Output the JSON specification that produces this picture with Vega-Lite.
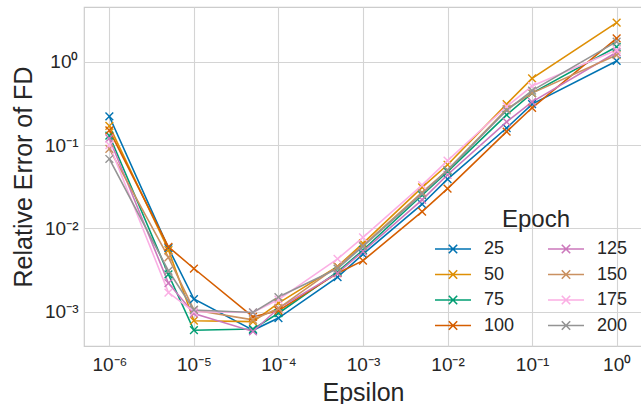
{
  "$schema": "https://vega.github.io/schema/vega-lite/v6.json",
  "width": 558,
  "height": 339,
  "autosize": {"type": "none"},
  "padding": {"left": 84, "top": 7, "right": 0, "bottom": 58},
  "background": "white",
  "config": {
    "font": "Liberation Sans",
    "view": {"stroke": "#cccccc", "strokeWidth": 1.2},
    "axis": {
      "gridColor": "#d4d4d4",
      "gridWidth": 1.1,
      "domain": false,
      "ticks": false,
      "labelColor": "#262626",
      "titleColor": "#262626",
      "labelFontSize": 19,
      "titleFontSize": 25,
      "titleFontWeight": "normal"
    },
    "legend": {
      "titleFontSize": 24,
      "titleFontWeight": "normal",
      "titleColor": "#262626",
      "labelColor": "#262626",
      "labelFontSize": 18
    }
  },
  "datasets": {
    "d": [
      {"epoch": "25", "eps": 1e-6, "err": 0.22},
      {"epoch": "25", "eps": 5e-6, "err": 0.0058},
      {"epoch": "25", "eps": 1e-5, "err": 0.00142},
      {"epoch": "25", "eps": 5e-5, "err": 0.0006},
      {"epoch": "25", "eps": 1e-4, "err": 0.00084},
      {"epoch": "25", "eps": 5e-4, "err": 0.0026},
      {"epoch": "25", "eps": 1e-3, "err": 0.0049},
      {"epoch": "25", "eps": 5e-3, "err": 0.0195},
      {"epoch": "25", "eps": 1e-2, "err": 0.039},
      {"epoch": "25", "eps": 5e-2, "err": 0.16},
      {"epoch": "25", "eps": 1e-1, "err": 0.31},
      {"epoch": "25", "eps": 1, "err": 1.02},

      {"epoch": "50", "eps": 1e-6, "err": 0.17},
      {"epoch": "50", "eps": 5e-6, "err": 0.0055},
      {"epoch": "50", "eps": 1e-5, "err": 0.00078},
      {"epoch": "50", "eps": 5e-5, "err": 0.00076},
      {"epoch": "50", "eps": 1e-4, "err": 0.00127},
      {"epoch": "50", "eps": 5e-4, "err": 0.0035},
      {"epoch": "50", "eps": 1e-3, "err": 0.0066},
      {"epoch": "50", "eps": 5e-3, "err": 0.031},
      {"epoch": "50", "eps": 1e-2, "err": 0.058},
      {"epoch": "50", "eps": 5e-2, "err": 0.31},
      {"epoch": "50", "eps": 1e-1, "err": 0.63},
      {"epoch": "50", "eps": 1, "err": 2.94},

      {"epoch": "75", "eps": 1e-6, "err": 0.13},
      {"epoch": "75", "eps": 5e-6, "err": 0.0028},
      {"epoch": "75", "eps": 1e-5, "err": 0.0006},
      {"epoch": "75", "eps": 5e-5, "err": 0.00062},
      {"epoch": "75", "eps": 1e-4, "err": 0.00096},
      {"epoch": "75", "eps": 5e-4, "err": 0.003},
      {"epoch": "75", "eps": 1e-3, "err": 0.0055},
      {"epoch": "75", "eps": 5e-3, "err": 0.025},
      {"epoch": "75", "eps": 1e-2, "err": 0.048},
      {"epoch": "75", "eps": 5e-2, "err": 0.23},
      {"epoch": "75", "eps": 1e-1, "err": 0.42},
      {"epoch": "75", "eps": 1, "err": 1.51},

      {"epoch": "100", "eps": 1e-6, "err": 0.15},
      {"epoch": "100", "eps": 5e-6, "err": 0.006},
      {"epoch": "100", "eps": 1e-5, "err": 0.0033},
      {"epoch": "100", "eps": 5e-5, "err": 0.00087},
      {"epoch": "100", "eps": 1e-4, "err": 0.00103},
      {"epoch": "100", "eps": 5e-4, "err": 0.0029},
      {"epoch": "100", "eps": 1e-3, "err": 0.0041},
      {"epoch": "100", "eps": 5e-3, "err": 0.0159},
      {"epoch": "100", "eps": 1e-2, "err": 0.03},
      {"epoch": "100", "eps": 5e-2, "err": 0.145},
      {"epoch": "100", "eps": 1e-1, "err": 0.28},
      {"epoch": "100", "eps": 1, "err": 1.9},

      {"epoch": "125", "eps": 1e-6, "err": 0.12},
      {"epoch": "125", "eps": 5e-6, "err": 0.0022},
      {"epoch": "125", "eps": 1e-5, "err": 0.00095},
      {"epoch": "125", "eps": 5e-5, "err": 0.00058},
      {"epoch": "125", "eps": 1e-4, "err": 0.0011},
      {"epoch": "125", "eps": 5e-4, "err": 0.0029},
      {"epoch": "125", "eps": 1e-3, "err": 0.0053},
      {"epoch": "125", "eps": 5e-3, "err": 0.022},
      {"epoch": "125", "eps": 1e-2, "err": 0.044},
      {"epoch": "125", "eps": 5e-2, "err": 0.19},
      {"epoch": "125", "eps": 1e-1, "err": 0.33},
      {"epoch": "125", "eps": 1, "err": 1.3},

      {"epoch": "150", "eps": 1e-6, "err": 0.09},
      {"epoch": "150", "eps": 5e-6, "err": 0.0045},
      {"epoch": "150", "eps": 1e-5, "err": 0.00105},
      {"epoch": "150", "eps": 5e-5, "err": 0.0008},
      {"epoch": "150", "eps": 1e-4, "err": 0.0011},
      {"epoch": "150", "eps": 5e-4, "err": 0.0035},
      {"epoch": "150", "eps": 1e-3, "err": 0.0062},
      {"epoch": "150", "eps": 5e-3, "err": 0.027},
      {"epoch": "150", "eps": 1e-2, "err": 0.05},
      {"epoch": "150", "eps": 5e-2, "err": 0.27},
      {"epoch": "150", "eps": 1e-1, "err": 0.42},
      {"epoch": "150", "eps": 1, "err": 1.2},

      {"epoch": "175", "eps": 1e-6, "err": 0.1},
      {"epoch": "175", "eps": 5e-6, "err": 0.0017},
      {"epoch": "175", "eps": 1e-5, "err": 0.001},
      {"epoch": "175", "eps": 5e-5, "err": 0.00098},
      {"epoch": "175", "eps": 1e-4, "err": 0.0014},
      {"epoch": "175", "eps": 5e-4, "err": 0.0043},
      {"epoch": "175", "eps": 1e-3, "err": 0.0078},
      {"epoch": "175", "eps": 5e-3, "err": 0.033},
      {"epoch": "175", "eps": 1e-2, "err": 0.065},
      {"epoch": "175", "eps": 5e-2, "err": 0.29},
      {"epoch": "175", "eps": 1e-1, "err": 0.51},
      {"epoch": "175", "eps": 1, "err": 1.38},

      {"epoch": "200", "eps": 1e-6, "err": 0.068},
      {"epoch": "200", "eps": 5e-6, "err": 0.0031},
      {"epoch": "200", "eps": 1e-5, "err": 0.00105},
      {"epoch": "200", "eps": 5e-5, "err": 0.00098},
      {"epoch": "200", "eps": 1e-4, "err": 0.0015},
      {"epoch": "200", "eps": 5e-4, "err": 0.0033},
      {"epoch": "200", "eps": 1e-3, "err": 0.0061},
      {"epoch": "200", "eps": 5e-3, "err": 0.026},
      {"epoch": "200", "eps": 1e-2, "err": 0.05},
      {"epoch": "200", "eps": 5e-2, "err": 0.26},
      {"epoch": "200", "eps": 1e-1, "err": 0.45},
      {"epoch": "200", "eps": 1, "err": 1.74}
    ]
  },
  "data": {"name": "d"},
  "mark": {
    "type": "line",
    "strokeWidth": 1.6,
    "clip": true,
    "point": {
      "shape": "M-1,-1L1,1M-1,1L1,-1",
      "filled": false,
      "size": 60,
      "strokeWidth": 1.4
    }
  },
  "encoding": {
    "x": {
      "field": "eps",
      "type": "quantitative",
      "title": "Epsilon",
      "scale": {"type": "log", "domain": [5.012e-7, 1.995], "nice": false},
      "axis": {
        "values": [1e-6, 1e-5, 1e-4, 1e-3, 1e-2, 1e-1, 1],
        "labelExpr": "'10' + ['⁻⁶','⁻⁵','⁻⁴','⁻³','⁻²','⁻¹','⁰'][round(log(datum.value)/LN10) + 6]",
        "labelPadding": 9,
        "titlePadding": 6
      }
    },
    "y": {
      "field": "err",
      "type": "quantitative",
      "title": "Relative Error of FD",
      "scale": {"type": "log", "domain": [0.000388, 4.53], "nice": false},
      "axis": {
        "values": [1e-3, 1e-2, 1e-1, 1],
        "labelExpr": "'10' + ['⁻³','⁻²','⁻¹','⁰'][round(log(datum.value)/LN10) + 3]",
        "labelPadding": 6,
        "titlePadding": 8
      }
    },
    "color": {
      "field": "epoch",
      "type": "nominal",
      "title": "Epoch",
      "scale": {
        "domain": ["25", "50", "75", "100", "125", "150", "175", "200"],
        "range": ["#0173b2", "#de8f05", "#029e73", "#d55e00", "#cc78bc", "#ca9161", "#fbafe4", "#949494"]
      },
      "legend": {
        "orient": "none",
        "legendX": 360,
        "legendY": 201,
        "columns": 2,
        "titleAnchor": "middle",
        "titlePadding": 8,
        "symbolType": "M-3,0L3,0M-0.7,-0.7L0.7,0.7M-0.7,0.7L0.7,-0.7",
        "symbolSize": 144,
        "symbolStrokeWidth": 1.6,
        "symbolFillColor": "transparent",
        "labelOffset": 22,
        "columnPadding": 29,
        "rowPadding": 7.5
      }
    }
  }
}
